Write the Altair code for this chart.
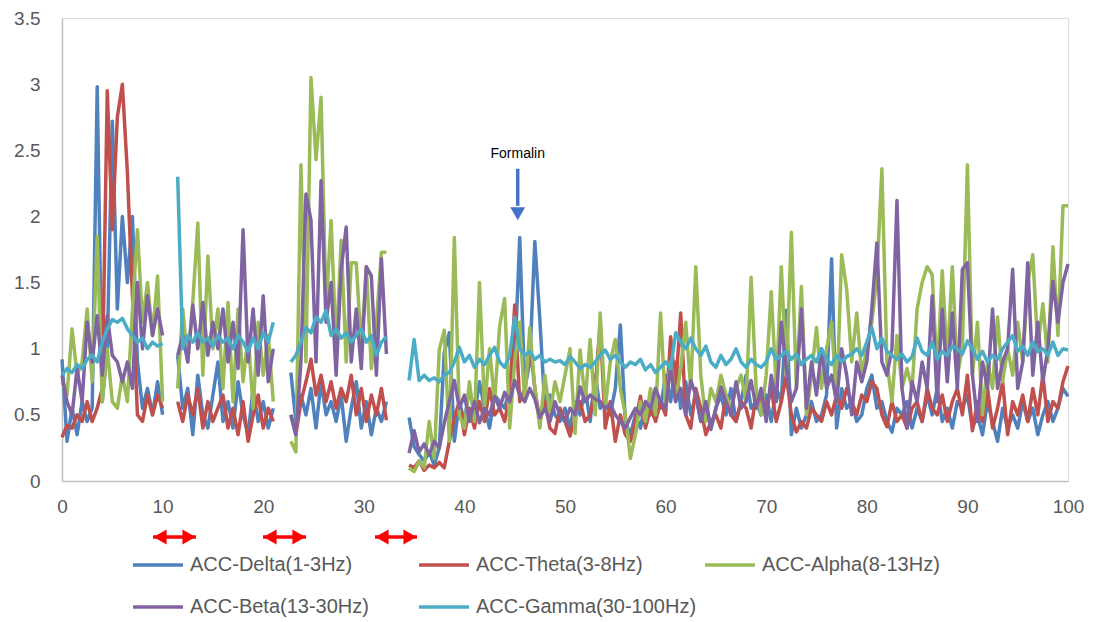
import altair as alt
import pandas as pd

SERIES = ["ACC-Delta(1-3Hz)", "ACC-Theta(3-8Hz)", "ACC-Alpha(8-13Hz)",
          "ACC-Beta(13-30Hz)", "ACC-Gamma(30-100Hz)"]
COLORS = ["#4F81BD", "#C0504D", "#9BBB59", "#8064A2", "#4BACC6"]

# recording segments (start time, sample step); gaps between them
SEG_START = [0.0, 11.5, 22.75, 34.5]
SEG_STEP = 0.5

delta = [
    [0.92, 0.3, 0.55, 0.35, 0.6, 0.45, 0.55, 2.98, 0.6, 1.0, 2.72, 1.3, 2.0, 1.5, 2.0, 0.9, 0.55, 0.7, 0.5, 0.75, 0.5],
    [0.95, 0.55, 0.7, 0.35, 0.8, 0.5, 0.4, 0.65, 0.9, 0.45, 0.6, 0.4, 0.75, 0.5, 0.35, 0.7, 0.45, 0.6, 0.4, 0.55],
    [0.82, 0.45, 0.65, 0.5, 0.7, 0.4, 0.75, 0.5, 0.6, 0.45, 0.65, 0.3, 0.55, 0.75, 0.4, 0.6, 0.35, 0.55, 0.45, 0.6],
    [0.48, 0.26, 0.2, 0.15, 0.22, 0.12, 0.25, 0.97, 1.12, 0.3,
     0.6, 0.45, 0.7, 0.5, 0.75, 0.55, 0.4, 0.65, 0.6, 0.55,
     0.7, 0.9, 1.84, 0.7, 0.9, 1.81, 1.22, 0.55, 0.65, 0.5,
     0.45, 0.55, 0.4, 0.6, 0.5, 0.7, 0.45, 0.8, 0.55, 0.6,
     0.5, 0.7, 1.18, 0.45, 0.35, 0.5, 0.4, 0.6, 0.5, 0.7,
     0.55, 0.8, 0.6, 0.9, 0.55, 0.75, 0.5, 0.65, 0.45, 0.6,
     0.4, 0.55, 0.65, 0.5, 0.7, 0.45, 0.6, 0.8, 0.55, 0.6,
     0.5, 0.65, 0.45, 0.7, 0.6, 1.29, 0.35, 0.55, 0.4, 0.5,
     0.6, 0.45, 0.5, 0.65, 1.68, 0.4, 0.7, 0.55, 0.6, 0.45,
     0.5, 0.7, 0.8, 0.55, 0.6, 0.45, 0.37, 0.55, 0.5, 0.6,
     0.4, 0.55, 0.45, 0.65, 0.5, 0.7, 0.45, 0.55, 0.4, 0.6,
     0.55, 0.65, 0.4, 0.5, 0.35, 0.6, 0.45, 0.3, 0.55, 0.4,
     0.5, 0.4, 0.6, 0.45, 0.55, 0.35, 0.5, 0.6, 0.45, 0.55,
     0.7, 0.64],
]

theta = [
    [0.33, 0.42, 0.4, 0.5, 0.45, 0.6, 0.45, 0.55, 0.7, 2.95, 1.9, 2.75, 3.0, 2.33, 1.4, 0.5, 0.45, 0.65, 0.5, 0.65, 0.55],
    [0.6, 0.45, 0.65, 0.5, 0.7, 0.4, 0.6, 0.45, 0.55, 0.65, 0.4, 0.55, 0.35, 0.6, 0.3, 0.5, 0.65, 0.4, 0.55, 0.45],
    [0.5, 0.35, 0.6, 0.75, 0.92, 0.65, 0.8, 0.6, 0.75, 0.55, 0.7, 0.6, 0.8, 0.5, 0.7, 0.45, 0.65, 0.5, 0.7, 0.46],
    [0.12, 0.1, 0.15, 0.08, 0.12, 0.1, 0.14, 0.1, 0.3, 0.48,
     0.6, 0.35, 0.55, 0.4, 0.6, 0.45, 0.7, 0.5, 0.55, 0.45,
     0.65, 1.33, 0.6, 0.7, 1.05, 0.7, 0.45, 0.6, 0.4, 0.36,
     0.55, 0.45, 0.34, 0.5, 0.6, 0.45, 0.5, 0.7, 1.2, 0.4,
     0.6, 0.3, 0.5, 0.35, 0.3, 0.45, 0.64, 0.4, 0.55, 0.45,
     0.6, 0.5, 1.09, 0.7, 1.27, 0.5, 0.4, 0.7, 0.55, 0.35,
     0.45, 0.5, 0.4, 0.65, 0.5, 0.45, 0.6, 0.55, 0.4, 0.65,
     0.6, 0.55, 0.7, 0.45, 0.6, 0.8, 0.5, 0.37, 0.45, 0.4,
     0.55, 0.5, 0.45, 0.6, 0.5, 0.65, 0.55, 0.7, 0.6, 0.5,
     0.65, 0.6, 0.75, 0.7, 0.5, 0.41, 0.6, 0.45, 0.5, 0.4,
     0.55, 0.6, 0.45, 0.7, 0.55, 0.5, 0.65, 0.45, 0.6, 0.7,
     0.5, 0.8, 0.38, 0.6, 0.45, 0.7, 0.4, 0.55, 0.75, 0.35,
     0.6, 0.5, 0.65, 0.45, 0.7, 0.5, 0.8, 0.45, 0.6, 0.55,
     0.75, 0.87],
]

alpha = [
    [0.75, 0.65, 1.15, 0.8, 0.9, 1.3, 0.75, 1.85, 0.6, 1.0, 0.6, 0.55, 0.8, 0.6, 1.3, 1.9, 1.2, 1.5, 1.1, 1.55, 0.6],
    [0.7, 1.3, 0.9, 1.35, 1.95, 0.8, 1.7, 1.0, 1.3, 0.7, 1.35, 0.6, 1.3, 0.75, 1.1, 0.55, 1.2, 0.8, 1.1, 0.6],
    [0.3, 0.22, 2.39, 0.9, 3.05, 2.43, 2.9, 1.3, 1.97, 1.0, 1.82, 0.9, 1.65, 1.65, 1.0, 1.62, 0.85, 1.2, 1.73, 1.73],
    [0.1, 0.07, 0.15, 0.1, 0.45, 0.17, 0.99, 1.14, 0.3, 1.84,
     0.5, 0.4, 0.75, 0.45, 1.5, 0.55, 1.0, 0.6, 1.17, 1.38,
     0.4, 0.9, 1.2, 0.6, 1.16, 0.7, 0.4, 0.8, 0.5, 0.75,
     0.6, 0.8, 1.0, 0.36, 0.99, 0.6, 1.07, 0.5, 1.27, 0.55,
     0.9, 1.07, 0.7, 0.5, 0.17, 0.35, 0.6, 0.45, 0.7, 0.5,
     1.27, 0.55, 0.9, 0.6, 0.85, 1.2, 0.7, 1.62, 0.8, 0.45,
     0.7, 0.6, 0.8, 0.65, 0.55, 0.7, 0.8, 0.6, 1.54, 0.7,
     0.5, 0.8, 1.43, 0.7, 1.62, 0.8, 1.88, 0.7, 1.47, 0.5,
     0.8, 1.16, 0.7, 1.0, 1.2, 0.6, 1.71, 1.45, 0.9, 1.27,
     0.8, 1.0, 1.2, 1.54, 2.36, 0.9, 0.6, 1.1, 0.7, 0.85,
     0.7, 1.3, 1.5, 1.62, 1.56, 0.8, 1.59, 0.9, 1.62, 0.8,
     1.0, 2.39, 0.8, 1.2, 0.5, 0.9, 0.7, 1.24, 0.75, 1.0,
     0.8, 1.2, 0.9, 1.5, 1.71, 1.0, 1.34, 0.9, 1.77, 1.1,
     2.08, 2.08],
]

beta = [
    [0.8, 0.6, 0.5, 0.85, 0.6, 1.2, 0.9, 1.25, 0.8, 1.25, 0.95, 0.9, 0.75, 0.9, 0.7, 1.5, 1.0, 1.4, 1.1, 1.3, 1.1],
    [0.95, 1.1, 0.9, 1.33, 1.0, 1.35, 0.95, 1.2, 1.0, 1.3, 0.9, 1.2, 0.85, 1.9, 0.9, 1.3, 0.8, 1.4, 0.75, 1.0],
    [0.5, 0.35, 0.9, 2.17, 1.97, 0.9, 2.27, 1.2, 1.5, 0.8, 1.6, 1.92, 0.9, 1.3, 0.85, 1.62, 1.55, 0.8, 1.68, 0.96],
    [0.21, 0.38, 0.22, 0.28, 0.2, 0.3, 0.25, 0.44, 0.6, 0.76,
     0.55, 0.65, 0.45, 0.6, 0.44, 0.55, 0.5, 0.64, 0.55, 0.67,
     0.6, 0.76, 0.65, 0.6, 0.7, 0.62, 0.48, 0.55, 0.45, 0.6,
     0.5, 0.45, 0.55, 0.5, 0.71, 0.6, 0.65, 0.62, 0.6, 0.55,
     0.58, 0.5, 0.45, 0.4, 0.48, 0.55, 0.5, 0.6, 0.55, 0.7,
     0.6, 0.55, 0.86, 0.6, 0.7, 0.5, 0.76, 0.65, 0.45, 0.6,
     0.39, 0.55, 0.71, 0.6, 0.5, 0.75, 0.55, 0.6, 0.76, 0.55,
     0.7, 0.45, 0.8, 0.6, 1.2, 0.85, 0.6, 0.7, 1.3, 0.55,
     0.9, 0.65, 1.0, 0.7, 0.8, 0.6, 1.0, 0.8, 0.5, 0.9,
     0.75, 0.9, 1.3, 1.8, 0.9, 0.8, 1.0, 2.12, 0.7, 0.4,
     0.75, 0.6, 0.9, 0.7, 1.4, 0.6, 1.3, 0.75, 1.27, 0.7,
     1.6, 1.65, 0.8, 0.45, 0.9, 0.7, 1.3, 0.7, 0.9, 1.0,
     1.6, 0.7, 0.9, 1.65, 0.8, 1.2, 0.75, 1.0, 1.51, 1.2,
     1.5, 1.64],
]

gamma = [
    [0.8, 0.85, 0.82, 0.88, 0.85, 0.92, 0.95, 0.9, 1.05, 1.15, 1.22, 1.2, 1.23, 1.15, 1.1, 1.05, 1.08, 1.0, 1.05, 1.02, 1.04],
    [2.3, 1.0, 1.1, 1.05, 1.12, 1.05, 1.08, 1.02, 1.1, 1.05, 1.08, 1.0, 1.1, 1.05, 0.98, 1.08, 1.0, 1.12, 1.05, 1.2],
    [0.9, 0.95, 1.05, 1.16, 1.12, 1.24, 1.2, 1.29, 1.1, 1.15, 1.08, 1.12, 1.05, 1.1, 1.15, 1.05, 1.1, 0.95, 1.05, 1.09],
    [0.76, 1.07, 0.76, 0.8, 0.76, 0.78, 0.75, 0.8, 0.82, 0.9,
     1.01, 0.9, 0.95, 0.86, 0.92, 0.88, 0.95, 1.01, 0.9, 0.86,
     0.95, 1.24, 1.0, 0.95, 0.98, 0.92, 0.95, 0.9, 0.92, 0.9,
     0.91, 0.88, 0.94, 0.9, 0.85, 0.88, 0.86, 0.9, 0.95, 0.99,
     0.92, 0.95, 0.9, 0.86, 0.9, 0.88, 0.92, 0.84, 0.88, 0.82,
     0.86, 0.9, 0.85, 1.12, 1.05, 1.0, 1.08, 1.0, 0.95, 1.02,
     0.9, 0.86, 0.95, 0.88, 0.92, 1.0, 0.9, 0.86, 0.92, 0.88,
     0.86, 0.9, 1.0, 0.92, 0.95, 0.98, 0.92, 0.96, 0.88, 0.92,
     0.95, 0.9, 1.0, 0.92, 0.88, 0.95, 0.9, 0.94, 0.96, 1.0,
     0.95, 1.05, 1.16, 1.0, 1.08, 0.98, 0.95, 0.92, 0.96, 0.9,
     0.94, 1.08, 0.98, 0.95, 1.05, 0.92, 0.98, 0.95, 1.02, 1.0,
     0.96, 1.06, 1.0, 0.92, 0.98, 0.9, 0.95, 0.92, 1.0, 1.05,
     1.1, 0.98, 1.02, 0.95, 1.05, 0.98, 1.0, 0.95, 1.05, 0.95,
     1.0, 0.99],
]

ALL = [delta, theta, alpha, beta, gamma]

# annotations
ARROW_START = [9.05, 19.98, 31.11]
ARROW_END = [13.32, 24.25, 35.29]
FORMALIN_X = 45.3
FORMALIN_LABEL = "Formalin"

rows = []
for name, segs in zip(SERIES, ALL):
    for k, vals in enumerate(segs):
        for i, v in enumerate(vals):
            rows.append({"series": name, "seg": k, "x": SEG_START[k] + SEG_STEP * i, "y": v})
df = pd.DataFrame(rows)

FONT = "Liberation Sans"
GRAY = "#595959"
XS = alt.Scale(domain=[0, 100], nice=False, zero=False)
YS = alt.Scale(domain=[0, 3.5], nice=False)
XA = alt.Axis(values=list(range(0, 101, 10)), title=None, grid=False, ticks=False,
              domainColor="#BFBFBF", domainWidth=1.5, labelFontSize=19,
              labelColor=GRAY, labelFont=FONT, labelPadding=16, labelFlush=False)
YA = alt.Axis(values=[0, 0.5, 1, 1.5, 2, 2.5, 3, 3.5], format="~g", title=None, grid=False,
              ticks=False, domainColor="#BFBFBF", domainWidth=1.5, labelFontSize=19,
              labelColor=GRAY, labelFont=FONT, labelPadding=22)

legend = alt.Legend(orient="none", legendX=69, legendY=520, direction="horizontal",
                    columns=3, symbolType="stroke", symbolSize=2500, symbolStrokeWidth=3.5,
                    labelFontSize=20, labelFont=FONT, labelColor=GRAY, labelOffset=5,
                    columnPadding=1, rowPadding=5, gridAlign="all", padding=0,
                    title=None, labelLimit=400)

color = alt.Color("series:N", scale=alt.Scale(domain=SERIES, range=COLORS), legend=legend)

line_layers = []
for s in SERIES:
    line_layers.append(
        alt.Chart(df).transform_filter(alt.datum.series == s)
        .mark_line(strokeWidth=3.5, strokeJoin="round")
        .encode(x=alt.X("x:Q", scale=XS, axis=XA),
                y=alt.Y("y:Q", scale=YS, axis=YA),
                color=color, detail="seg:N")
    )

arr_df = pd.DataFrame({"x": ARROW_START, "x2": ARROW_END})
red_shaft = alt.Chart(arr_df).mark_rule(color="#FF0000", strokeWidth=3.5).encode(
    x=alt.X("x:Q", scale=XS, axis=XA), x2="x2:Q", y=alt.value(519))
red_left = alt.Chart(arr_df).mark_point(shape="triangle-left", filled=True, color="#FF0000",
                                        size=230, opacity=1, xOffset=7).encode(
    x=alt.X("x:Q", scale=XS, axis=XA), y=alt.value(519))
red_right = alt.Chart(arr_df).mark_point(shape="triangle-right", filled=True, color="#FF0000",
                                         size=230, opacity=1, xOffset=-7).encode(
    x=alt.X("x2:Q", scale=XS, axis=XA), y=alt.value(519))

f_df = pd.DataFrame({"x": [FORMALIN_X], "label": [FORMALIN_LABEL], "ytxt": [2.47],
                     "y1": [2.36], "y2": [2.08], "yh": [2.02]})
f_text = alt.Chart(f_df).mark_text(font=FONT, fontSize=14, color="#000000").encode(
    x=alt.X("x:Q", scale=XS, axis=XA), y=alt.Y("ytxt:Q", scale=YS, axis=YA), text="label:N")
f_shaft = alt.Chart(f_df).mark_rule(color="#4472C4", strokeWidth=3.5).encode(
    x=alt.X("x:Q", scale=XS, axis=XA), y=alt.Y("y1:Q", scale=YS, axis=YA), y2="y2:Q")
f_head = alt.Chart(f_df).mark_point(shape="triangle-down", filled=True, color="#4472C4",
                                    size=220, opacity=1).encode(
    x=alt.X("x:Q", scale=XS, axis=XA), y=alt.Y("yh:Q", scale=YS, axis=YA))

chart = alt.layer(*line_layers, red_shaft, red_left, red_right, f_shaft, f_head, f_text).properties(
    width=1006, height=463,
    padding={"left": 62, "top": 18, "right": 26, "bottom": 141},
    autosize=alt.AutoSizeParams(type="none"),
).configure_view(stroke=None).configure(font=FONT)

chart.save("out.html", embed_options={"renderer": "svg", "actions": False})
